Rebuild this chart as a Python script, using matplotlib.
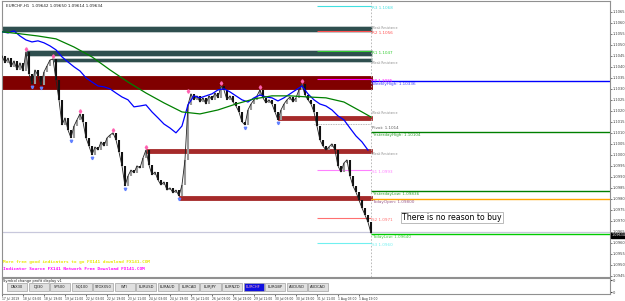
import numpy as np
import matplotlib.pyplot as plt
from matplotlib.patches import Rectangle
from matplotlib.ticker import MultipleLocator, FormatStrFormatter

# EURCHF H1 closes, one value per bar
closes = [1.10450, 1.10418, 1.10440, 1.10400, 1.10427, 1.10386, 1.10418, 1.10381, 1.10468, 1.10368,
          1.10322, 1.10386, 1.10359, 1.10318, 1.10377, 1.10404, 1.10431, 1.10436, 1.10340, 1.10250,
          1.10136, 1.10168, 1.10113, 1.10077, 1.10131, 1.10159, 1.10186, 1.10150, 1.10077, 1.10040,
          1.10000, 1.10036, 1.10022, 1.10059, 1.10040, 1.10077, 1.10090, 1.10100, 1.10068, 1.10013,
          1.09950, 1.09859, 1.09904, 1.09931, 1.09918, 1.09950, 1.09940, 1.09986, 1.10022, 1.09954,
          1.09909, 1.09922, 1.09886, 1.09863, 1.09877, 1.09840, 1.09850, 1.09827, 1.09840, 1.09813,
          1.09863, 1.09977, 1.10227, 1.10277, 1.10250, 1.10268, 1.10240, 1.10259, 1.10231, 1.10268,
          1.10250, 1.10281, 1.10259, 1.10313, 1.10295, 1.10250, 1.10268, 1.10240, 1.10222, 1.10195,
          1.10150, 1.10136, 1.10204, 1.10231, 1.10250, 1.10268, 1.10295, 1.10259, 1.10236, 1.10250,
          1.10231, 1.10195, 1.10159, 1.10204, 1.10231, 1.10250, 1.10263, 1.10240, 1.10259, 1.10295,
          1.10322, 1.10272, 1.10250, 1.10231, 1.10195, 1.10131, 1.10068, 1.10040, 1.10022, 1.10036,
          1.10050, 1.10022, 1.09950, 1.09922, 1.09963, 1.09977, 1.09904, 1.09859, 1.09831, 1.09795,
          1.09759, 1.09727, 1.09695, 1.09645]

# fast MA (every 2nd bar) and slow MA
blue_ma = [1.10559, 1.10554, 1.10563, 1.10540, 1.10522, 1.10513, 1.10518, 1.10509, 1.10495, 1.10477,
           1.10445, 1.10422, 1.10400, 1.10381, 1.10350, 1.10331, 1.10313, 1.10309, 1.10300, 1.10281,
           1.10263, 1.10250, 1.10218, 1.10222, 1.10227, 1.10195, 1.10168, 1.10140, 1.10122, 1.10100,
           1.10131, 1.10227, 1.10268, 1.10259, 1.10268, 1.10277, 1.10295, 1.10300, 1.10286, 1.10268,
           1.10250, 1.10240, 1.10259, 1.10272, 1.10263, 1.10259, 1.10245, 1.10259, 1.10277, 1.10295,
           1.10313, 1.10277, 1.10250, 1.10231, 1.10222, 1.10204, 1.10177, 1.10159, 1.10122, 1.10086,
           1.10059, 1.10022]
green_bars = [0, 6, 12, 18, 24, 30, 36, 42, 48, 54, 60, 66, 72, 78, 84, 90, 96, 102, 108, 114, 120, 123]
green_ma = [1.10559, 1.10550, 1.10540, 1.10527, 1.10490, 1.10445, 1.10386, 1.10331, 1.10281, 1.10236,
            1.10195, 1.10186, 1.10204, 1.10231, 1.10254, 1.10268, 1.10268, 1.10263, 1.10259, 1.10240,
            1.10195, 1.10172]

# fractals
frac_hi_bars = [8, 17, 26, 37, 48, 62, 73, 86, 100]
frac_hi = [1.10481, 1.10450, 1.10200, 1.10113, 1.10036, 1.10290, 1.10327, 1.10309, 1.10336]
frac_lo_bars = [10, 13, 23, 30, 41, 59, 81, 92]
frac_lo = [1.10309, 1.10304, 1.10063, 1.09986, 1.09845, 1.09800, 1.10122, 1.10145]

# supply / demand zones
zone_lo = [1.10559, 1.10450, 1.10422, 1.10300, 1.10159, 1.10009, 1.09795]
zone_hi = [1.10586, 1.10477, 1.10440, 1.10359, 1.10177, 1.10027, 1.09813]
zone_start = [0, 8, 17, 0, 92, 48, 59]
zone_color = ['#2f4f4f', '#2f4f4f', '#2f4f4f', '#800000', '#a52a2a', '#a52a2a', '#a52a2a']

# pivot levels
piv_names = ['R3 1.1068', 'R2 1.1056', 'R1 1.1047', 'PP 1.1035', 'S1 1.0993', 'S2 1.0971', 'S3 1.0960']
piv_prices = [1.10677, 1.10563, 1.10472, 1.10345, 1.09931, 1.09713, 1.09600]
piv_colors = ['#40e0e0', '#ff5050', '#32cd32', '#ff00ff', '#ff80ff', '#ff7070', '#70f0f0']

# daily levels
day_names = ['WeeklyHigh: 1.10336', 'YesterdayHigh: 1.10104', 'YesterdayLow: 1.09836',
             'TodayOpen: 1.09800', 'TodayLow: 1.09640']
day_prices = [1.10336, 1.10104, 1.09836, 1.09800, 1.09640]
day_colors = ['#0000ff', '#008000', '#008000', '#ffa500', '#00cc00']
day_text_colors = ['#4040ff', '#30a030', '#30a030', '#9a5a8a', '#40d040']

bid = 1.09650
last = 1.09634

date_bars = [0, 7, 14, 21, 28, 35, 42, 49, 56, 63, 70, 77, 84, 91, 98, 105, 112, 119]
date_labels = ['17 Jul 2019', '18 Jul 03:00', '18 Jul 19:00', '19 Jul 11:00', '22 Jul 03:00',
               '22 Jul 19:00', '23 Jul 11:00', '24 Jul 03:00', '24 Jul 19:00', '25 Jul 11:00',
               '26 Jul 03:00', '26 Jul 19:00', '29 Jul 11:00', '30 Jul 03:00', '30 Jul 19:00',
               '31 Jul 11:00', '1 Aug 03:00', '1 Aug 19:00']

buttons = ['DAX30', 'DJI30', 'SP500', 'NQ100', 'STOXX50', 'WTI', 'EURUSD', 'EURAUD', 'EURCAD',
           'EURJPY', 'EURNZD', 'EURCHF', 'EURGBP', 'AUDUSD', 'AUDCAD']
active = 'EURCHF'

W, H = 625, 301
fig = plt.figure(figsize=(W / 100, H / 100), dpi=100)
ax = fig.add_axes([2 / W, 24 / H, 608 / W, 276 / H])
now = len(closes) - 1
ax.set_xlim(0, 202.7)
ax.set_ylim(1.09445, 1.10699)

# zones
for lo, hi, st, c in zip(zone_lo, zone_hi, zone_start, zone_color):
    ec = '#c8d0d0' if c == '#2f4f4f' else c
    ax.add_patch(Rectangle((st, lo), now + 0.5 - st, hi - lo, facecolor=c, edgecolor=ec, lw=0.6, zorder=1))

# candles
x = np.arange(len(closes))
for i in range(1, len(closes)):
    o, c = closes[i - 1], closes[i]
    col = '#111111' if c < o else '#9a9a9a'
    ax.vlines(x[i], min(o, c), max(o, c), color=col, lw=1.5, zorder=3)
ax.plot(x, closes, color='#222222', lw=0.6, zorder=3)

ax.plot(np.arange(0, 2 * len(blue_ma), 2), blue_ma, color='#0000ff', lw=0.9, zorder=4)
ax.plot(green_bars, green_ma, color='#008000', lw=0.9, zorder=4)

ax.plot(frac_hi_bars, frac_hi, 'd', color='#ff60b0', ms=1.8, zorder=5)
ax.plot(frac_lo_bars, frac_lo, 'v', color='#6080ff', ms=1.8, zorder=5)

# now line + bid
ax.axvline(now, color='#b0b0b0', lw=0.6, ls=(0, (2, 2)), zorder=2)
ax.axhline(bid, color='#c8c8dc', lw=0.9, zorder=2)

# pivots
for nm, p, c in zip(piv_names, piv_prices, piv_colors):
    ax.hlines(p, 105, now, color=c, lw=0.8, zorder=2)
    ax.text(now + 0.4, p, nm, color=c, fontsize=3.0, va='top', zorder=6)

# weak resistance tags
for p in [1.10578, 1.10418, 1.10188, 1.10004]:
    ax.text(now + 0.4, p, 'Weak Resistance', color='#909090', fontsize=2.2, va='center', zorder=6)
ax.hlines(1.10140, 104, now, color='#a0a0a0', lw=0.6, ls=(0, (1, 1)))
ax.text(now + 0.4, 1.10131, 'Pivot: 1.1014', color='#606060', fontsize=3.0, va='top', zorder=6)

for nm, p, c, tc in zip(day_names, day_prices, day_colors, day_text_colors):
    ax.hlines(p, now, 202.7, color=c, lw=1.0, zorder=2)
    ax.text(now + 0.4, p - 0.00003, nm, color=tc, fontsize=3.0, va='top', zorder=6)

ax.text(133.5, 1.09715, 'There is no reason to buy', fontsize=5.6, color='black', va='center', zorder=7,
        bbox=dict(boxstyle='square,pad=0.15', fc='white', ec='#b0b0b0', lw=0.6))

ax.text(0.006, 0.989, 'EURCHF,H1  1.09642 1.09650 1.09614 1.09634', transform=ax.transAxes,
        fontsize=3, color='#202020', va='top')
ax.text(0.002, 0.05, 'More free good indicators to go FX141 download FX141.COM', transform=ax.transAxes,
        fontsize=3.2, color='#e8e800', family='DejaVu Sans Mono', weight='bold')
ax.text(0.002, 0.025, 'Indicator Source FX141 Network Free Download FX141.COM', transform=ax.transAxes,
        fontsize=3.2, color='#ff00ff', family='DejaVu Sans Mono', weight='bold')

ax.yaxis.tick_right()
ax.yaxis.set_major_locator(MultipleLocator(0.0005))
ax.yaxis.set_major_formatter(FormatStrFormatter('%.4f'))
ax.tick_params(axis='y', labelsize=2.6, length=1.5, pad=0.6, colors='#404040', width=0.5)
ax.set_xticks([])
for s in ax.spines.values():
    s.set_color('#909090')
    s.set_linewidth(0.8)
ax.text(1.002, last, '1.09634', transform=ax.get_yaxis_transform(), fontsize=2.4, color='white',
        va='center', bbox=dict(boxstyle='square,pad=0.15', fc='black', ec='black'), zorder=8)

# sub window with symbol buttons
ax2 = fig.add_axes([2 / W, 7 / H, 608 / W, 16 / H])
ax2.set_xlim(0, 202.7)
ax2.set_ylim(0, 1)
ax2.yaxis.tick_right()
ax2.set_yticks([0.1, 0.85])
ax2.set_yticklabels(['0', '0'])
ax2.tick_params(axis='y', labelsize=2.6, length=1.5, pad=0.6, colors='#404040')
ax2.set_xticks(date_bars)
ax2.set_xticklabels(date_labels, ha='left')
ax2.tick_params(axis='x', labelsize=2.2, length=1.5, pad=0.6, colors='#303030', width=0.5)
for s in ax2.spines.values():
    s.set_color('#909090')
    s.set_linewidth(0.8)
ax2.text(0.002, 0.93, 'Symbol change profit display v1', transform=ax2.transAxes, fontsize=2.6,
         va='top', color='#202020')

for i, b in enumerate(buttons):
    x0 = (7 + 21.5 * i) / W
    fc = '#1010e0' if b == active else '#e0e0e0'
    tc = '#ffb0c0' if b == active else '#202020'
    fig.add_artist(Rectangle((x0, (301 - 291) / H), 20 / W, 8 / H, transform=fig.transFigure,
                             facecolor=fc, edgecolor='#a0a0a0', lw=0.5))
    fig.text(x0 + 10 / W, (301 - 287) / H, b, fontsize=2.6, color=tc, ha='center', va='center')

fig.savefig('out.png', dpi=100)
